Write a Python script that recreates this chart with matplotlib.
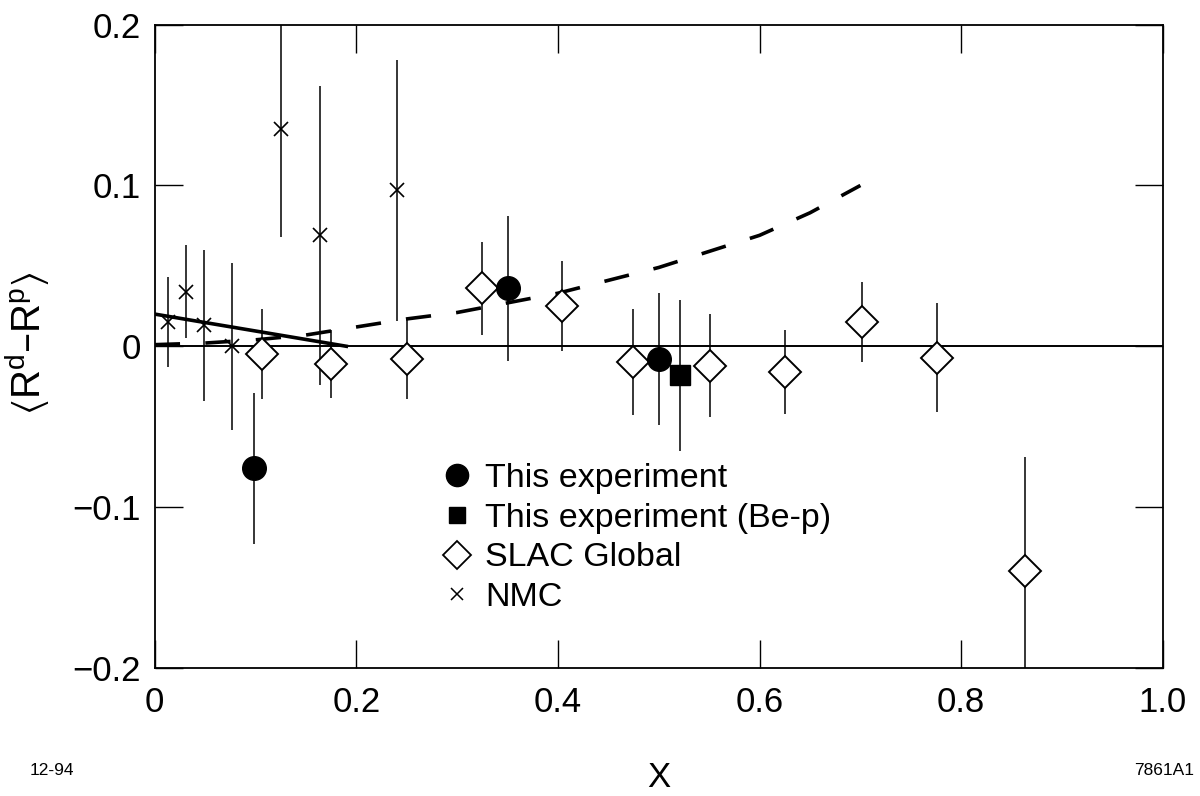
import matplotlib
matplotlib.use("Agg")
import matplotlib.pyplot as plt
from matplotlib.lines import Line2D

plt.rcParams["font.family"] = ["Liberation Sans", "DejaVu Sans"]
plt.rcParams["mathtext.default"] = "regular"

# This experiment (circles)
exp_x   = [0.098, 0.350, 0.500]
exp_y   = [-0.076, 0.036, -0.008]
exp_err = [0.047, 0.045, 0.041]

# This experiment (Be-p) (square)
bep_x   = [0.521]
bep_y   = [-0.018]
bep_err = [0.047]

# SLAC Global (open diamonds)
slac_x   = [0.106, 0.175, 0.250, 0.325, 0.404, 0.474, 0.551, 0.625, 0.702, 0.776, 0.863]
slac_y   = [-0.005, -0.011, -0.008, 0.036, 0.025, -0.010, -0.012, -0.016, 0.015, -0.007, -0.140]
slac_err = [0.028, 0.021, 0.025, 0.029, 0.028, 0.033, 0.032, 0.026, 0.025, 0.034, 0.071]

# NMC (crosses)
nmc_x   = [0.013, 0.031, 0.049, 0.077, 0.125, 0.164, 0.240]
nmc_y   = [0.015, 0.034, 0.013, 0.000, 0.135, 0.069, 0.097]
nmc_err = [0.028, 0.029, 0.047, 0.052, 0.067, 0.093, 0.081]

# solid model line near origin
solid_x = [0.0, 0.19]
solid_y = [0.020, 0.0]

# dashed model curve
dash_x = [0.0, 0.05, 0.10, 0.15, 0.20, 0.25, 0.30, 0.35, 0.40, 0.45, 0.50, 0.55, 0.60, 0.65, 0.70]
dash_y = [0.001, 0.002, 0.004, 0.007, 0.012, 0.017, 0.021, 0.027, 0.033, 0.041, 0.049, 0.059, 0.069, 0.083, 0.100]

fig = plt.figure(figsize=(12, 7.96), dpi=100)
ax = fig.add_axes([0.129, 0.161, 0.840, 0.808])

ax.axhline(0, color="black", lw=1.4, zorder=1)
ax.plot(solid_x, solid_y, color="black", lw=2.6, zorder=2)
ax.plot(dash_x, dash_y, color="black", lw=2.6, dashes=(7, 7), zorder=2)

eb = dict(fmt="none", ecolor="black", elinewidth=1.1, capsize=0, zorder=3)
ax.errorbar(nmc_x, nmc_y, yerr=nmc_err, **eb)
ax.errorbar(slac_x, slac_y, yerr=slac_err, **eb)
ax.errorbar(exp_x, exp_y, yerr=exp_err, **eb)
ax.errorbar(bep_x, bep_y, yerr=bep_err, **eb)

ax.plot(nmc_x, nmc_y, ls="none", marker="x", ms=9.5, mew=1.2, color="black", zorder=4)
ax.plot(slac_x, slac_y, ls="none", marker="D", ms=16, mew=1.4, mfc="white", mec="black", zorder=4)
ax.plot(exp_x, exp_y, ls="none", marker="o", ms=17, color="black", zorder=5)
ax.plot(bep_x, bep_y, ls="none", marker="s", ms=14, color="black", zorder=5)

ax.set_xlim(0, 1.0)
ax.set_ylim(-0.2, 0.2)
ax.set_xticks([0, 0.2, 0.4, 0.6, 0.8, 1.0])
ax.set_xticklabels(["0", "0.2", "0.4", "0.6", "0.8", "1.0"])
ax.set_yticks([-0.2, -0.1, 0, 0.1, 0.2])
ax.set_yticklabels(["\u22120.2", "\u22120.1", "0", "0.1", "0.2"])
ax.tick_params(direction="in", length=20, width=1.0, top=True, right=True,
               labelsize=25, pad=13)
ax.tick_params(axis="y", pad=10)
for sp in ax.spines.values():
    sp.set_linewidth(1.3)

ax.set_ylabel("$\\langle R^{d}$\u2013$R^{p}\\rangle$", fontsize=29, labelpad=2)
ax.yaxis.set_label_coords(-0.102, 0.505)
ax.set_xlabel("X", fontsize=25, labelpad=30)

handles = [
    Line2D([], [], ls="none", marker="o", ms=16, color="black"),
    Line2D([], [], ls="none", marker="s", ms=12, color="black"),
    Line2D([], [], ls="none", marker="D", ms=14, mew=1.3, mfc="white", mec="black"),
    Line2D([], [], ls="none", marker="x", ms=9, mew=1.1, color="black"),
]
labels = ["This experiment", "This experiment (Be-p)", "SLAC Global", "NMC"]
ax.legend(handles, labels, loc="upper left", bbox_to_anchor=(0.269, 0.34),
          frameon=False, fontsize=24.5, handlelength=1.0, handletextpad=0.33,
          labelspacing=0.26, borderaxespad=0)

fig.text(0.025, 0.026, "12-94", fontsize=12.5)
fig.text(0.995, 0.026, "7861A1", fontsize=12.5, ha="right")

fig.savefig("out.png", dpi=100)
